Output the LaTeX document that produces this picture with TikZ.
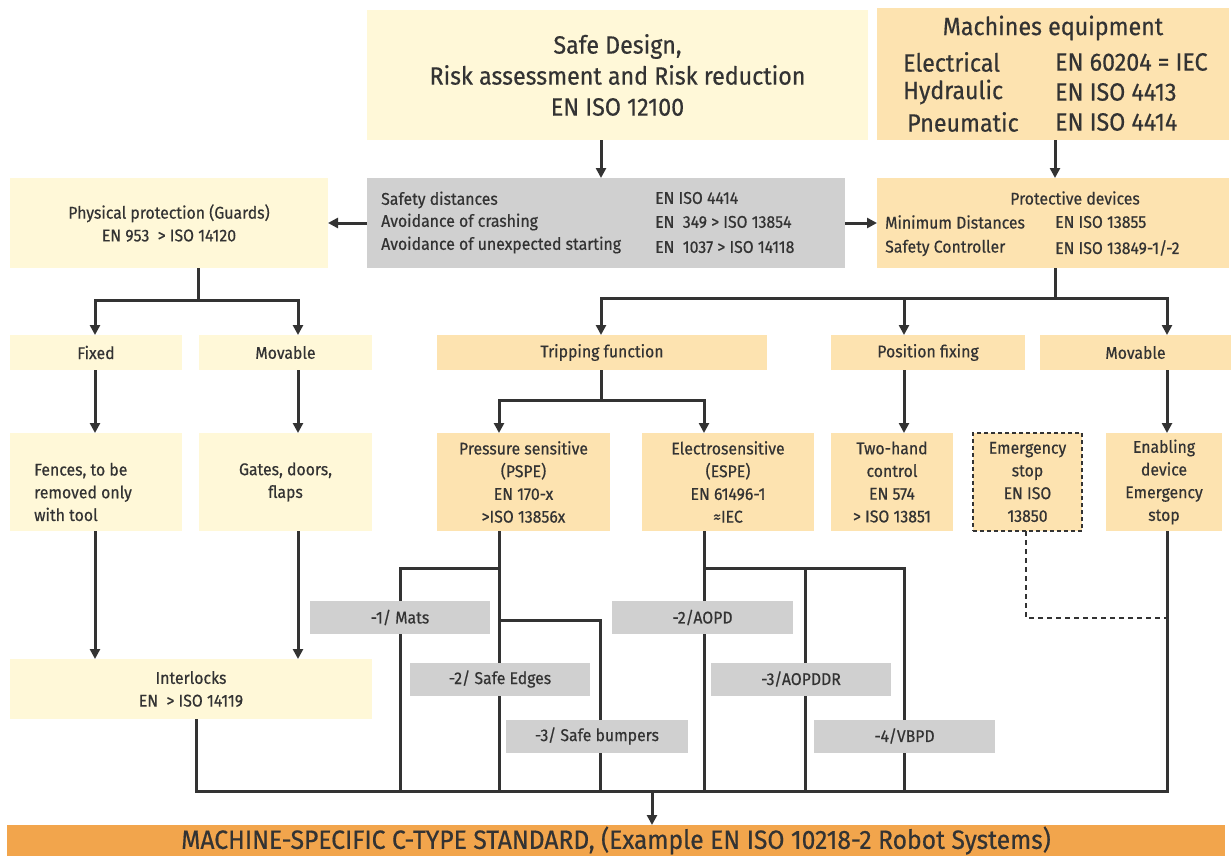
\documentclass[tikz,border=0pt]{standalone}
\usepackage{fontspec}
\setmainfont{Fira Sans}[FakeStretch=0.93, FakeBold=0.5]
\usetikzlibrary{arrows.meta,backgrounds}
\definecolor{paleyel}{HTML}{FFF8D8}
\definecolor{paleorg}{HTML}{FDE3B0}
\definecolor{boxgray}{HTML}{D0D0D0}
\definecolor{baseorg}{HTML}{F2A54C}
\definecolor{ink}{HTML}{333333}
\newcommand{\smltxt}{\fontsize{17}{22.7}\selectfont}
\newcommand{\lrgtxt}{\fontsize{25}{31}\selectfont}
\begin{document}
\begin{tikzpicture}[x=1pt,y=-1pt,
    box/.style={inner sep=0pt, outer sep=0pt, text=ink, align=center, font=\smltxt},
    sz/.style 2 args={minimum width=#1pt, minimum height=#2pt},
    yel/.style={box, fill=paleyel},
    org/.style={box, fill=paleorg},
    gry/.style={box, fill=boxgray},
    txt/.style={inner sep=0pt, text=ink, font=\smltxt},
    conn/.style={draw=ink, line width=3pt},
    arr/.style={conn, -{Triangle[length=10pt,width=10pt]}},
    dashln/.style={draw=ink, line width=1.6pt, dash pattern=on 5pt off 4pt}]
        \useasboundingbox (0,0) rectangle (1231,856);

        % top row
        \node[yel, sz={501}{130}, font=\lrgtxt] (safe) at (617.5,75) {Safe Design,\\Risk assessment and Risk reduction\\EN ISO 12100};
        \node[org, sz={352}{132}] (mach) at (1053,74) {};
        \node[txt, font=\lrgtxt] (machT) at (1053,28) {Machines equipment};
        \node[txt, font=\lrgtxt, anchor=west] (machE) at (903,62) {Electrical};
        \node[txt, font=\lrgtxt, anchor=west] (machH) at (903,92) {Hydraulic};
        \node[txt, font=\lrgtxt, anchor=west] (machP) at (907,122) {Pneumatic};
        \node[txt, font=\lrgtxt, anchor=west] (machEs) at (1055,62) {EN 60204 = IEC};
        \node[txt, font=\lrgtxt, anchor=west] (machHs) at (1055,92) {EN ISO 4413};
        \node[txt, font=\lrgtxt, anchor=west] (machPs) at (1055,122) {EN ISO 4414};

        % second row
        \node[yel, sz={318}{90}] (phys) at (169,223) {Physical protection (Guards)\\EN 953\ \ > ISO 14120};
        \node[gry, sz={478}{90}] (gray) at (606,223) {};
        \node[txt, anchor=west] (grA) at (381,200) {Safety distances};
        \node[txt, anchor=west] (grB) at (381,222) {Avoidance of crashing};
        \node[txt, anchor=west] (grC) at (381,245) {Avoidance of unexpected starting};
        \node[txt, anchor=west] (grAs) at (655,198) {EN ISO 4414};
        \node[txt, anchor=west] (grBs) at (655,222) {EN\ \ 349 > ISO 13854};
        \node[txt, anchor=west] (grCs) at (655,247) {EN\ \ 1037 > ISO 14118};
        \node[org, sz={352}{90}] (prot) at (1053,223) {};
        \node[txt] (protT) at (1075,198) {Protective devices};
        \node[txt, anchor=west] (protA) at (885,222) {Minimum Distances};
        \node[txt, anchor=west] (protB) at (885,248) {Safety Controller};
        \node[txt, anchor=west] (protAs) at (1055,222) {EN ISO 13855};
        \node[txt, anchor=west] (protBs) at (1055,248) {EN ISO 13849-1/-2};

        % third row
        \node[yel, sz={172}{35}] (fixed) at (96,352.5) {Fixed};
        \node[yel, sz={173}{35}] (movL) at (285.5,352.5) {Movable};
        \node[org, sz={330}{35}] (trip) at (602,352.5) {Tripping function};
        \node[org, sz={194}{35}] (pos) at (928,352.5) {Position fixing};
        \node[org, sz={191}{35}] (movR) at (1135.5,352.5) {Movable};

        % fourth row
        \node[yel, sz={172}{98}] (fences) at (96,482) {};
        \node[txt, align=left, anchor=west] (fenT) at (34,492) {Fences, to be\\removed only\\with tool};
        \node[yel, sz={173}{98}] (gates) at (285.5,482) {Gates, doors,\\flaps};
        \node[org, sz={173}{98}] (press) at (523.5,482) {Pressure sensitive\\(PSPE)\\EN 170-x\\>ISO 13856x};
        \node[org, sz={172}{98}] (elec) at (728,482) {Electrosensitive\\(ESPE)\\EN 61496-1\\≈IEC};
        \node[org, sz={122}{98}] (two) at (892,482) {Two-hand\\control\\EN 574\\> ISO 13851};
        \node[org, sz={109}{98}, draw=ink, line width=1.5pt, dash pattern=on 4pt off 3pt] (emer) at (1027.5,482) {Emergency\\stop\\EN ISO\\13850};
        \node[org, sz={116}{98}] (enab) at (1164,482) {Enabling\\device\\Emergency\\stop};

        % sub types
        \node[gry, sz={180}{33}] (mats) at (400,617.5) {-1/ Mats};
        \node[gry, sz={180}{33}] (edges) at (500,679) {-2/ Safe Edges};
        \node[gry, sz={182}{33}] (bump) at (597,736) {-3/ Safe bumpers};
        \node[gry, sz={181}{33}] (aopd) at (702.5,617.5) {-2/AOPD};
        \node[gry, sz={180}{33}] (aopddr) at (801,679) {-3/AOPDDR};
        \node[gry, sz={181}{33}] (vbpd) at (904.5,736) {-4/VBPD};
        \node[yel, sz={362}{60}] (inter) at (191,689) {Interlocks\\EN\ \ > ISO 14119};

        % bottom
        \node[box, fill=baseorg, sz={1218}{31}, font=\fontsize{26.5}{30}\selectfont] (base) at (616,840.5) {MACHINE-SPECIFIC C-TYPE STANDARD, (Example EN ISO 10218-2 Robot Systems)};

        % columns and junctions
        \coordinate (safeC) at (601,0);
        \coordinate (machC) at (1055,0);
        \coordinate (fixC) at (95,0);
        \coordinate (movC) at (298,0);
        \coordinate (tripC) at (601,0);
        \coordinate (posC) at (904,0);
        \coordinate (movRC) at (1167,0);
        \coordinate (pressC) at (499,0);
        \coordinate (elecC) at (704,0);
        \coordinate (physJ) at (198,300);
        \coordinate (protJ) at (1055,298);
        \coordinate (tripJ) at (601,400);
        \coordinate (busL) at (196,791);
        \coordinate (busR) at (1167,791);
        \coordinate (busD) at (652,791);
        \coordinate (pbA) at (400,568);
        \coordinate (pbB) at (600,620);
        \coordinate (ebM) at (805,568);
        \coordinate (ebA) at (904,568);
        \coordinate (emJ) at (1026,618);

        \begin{scope}[on background layer]
        \draw[arr] (safe.south -| safeC) -- (gray.north -| safeC);
        \draw[arr] (mach.south -| machC) -- (prot.north -| machC);
        \draw[arr] (gray.west) -- (phys.east);
        \draw[arr] (gray.east) -- (prot.west);

        \draw[conn] (phys.south -| physJ) -- (physJ);
        \draw[arr] (physJ) -| (fixed.north -| fixC);
        \draw[arr] (physJ) -| (movL.north -| movC);
        \draw[arr] (fixed.south -| fixC) -- (fences.north -| fixC);
        \draw[arr] (movL.south -| movC) -- (gates.north -| movC);
        \draw[arr] (fences.south -| fixC) -- (inter.north -| fixC);
        \draw[arr] (gates.south -| movC) -- (inter.north -| movC);

        \draw[conn] (prot.south -| protJ) -- (protJ);
        \draw[arr] (protJ) -| (trip.north -| tripC);
        \draw[arr] (protJ) -| (pos.north -| posC);
        \draw[arr] (protJ) -| (movR.north -| movRC);
        \draw[conn] (trip.south -| tripJ) -- (tripJ);
        \draw[arr] (tripJ) -| (press.north -| pressC);
        \draw[arr] (tripJ) -| (elec.north -| elecC);
        \draw[arr] (pos.south -| posC) -- (two.north -| posC);
        \draw[arr] (movR.south -| movRC) -- (enab.north -| movRC);

        % collecting lines
        \draw[conn] (inter.south -| busL) -- (busL) -- (busR) -- (enab.south -| busR);
        \draw[conn] (press.south -| pressC) -- (pressC |- busL);
        \draw[conn] (pressC |- pbA) -- (pbA) -- (pbA |- busL);
        \draw[conn] (pressC |- pbB) -- (pbB) -- (pbB |- busL);
        \draw[conn] (elec.south -| elecC) -- (elecC |- busL);
        \draw[conn] (elecC |- ebA) -- (ebA) -- (ebA |- busL);
        \draw[conn] (ebM) -- (ebM |- busL);
        \draw[dashln] (emer.south -| emJ) -- (emJ) -- (emJ -| busR);
        \draw[arr] (busD) -- (base.north -| busD);
        \end{scope}

    \end{tikzpicture}
\end{document}
